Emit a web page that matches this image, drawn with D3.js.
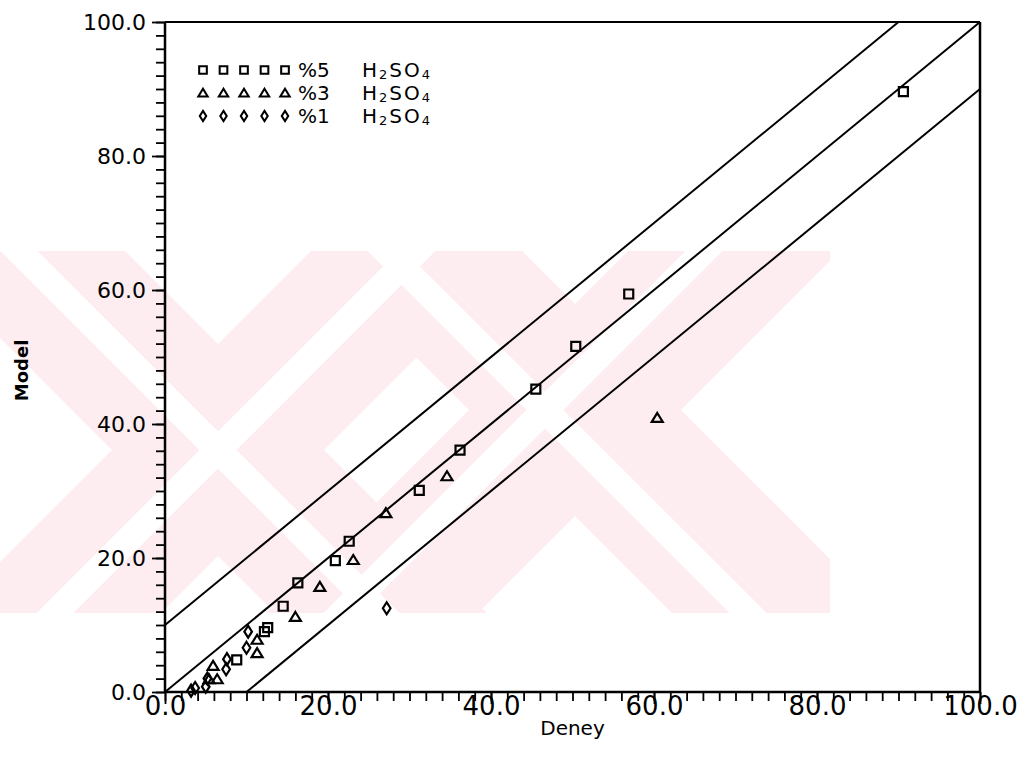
<!DOCTYPE html>
<html>
<head>
<meta charset="utf-8">
<script src="https://cdn.jsdelivr.net/npm/d3@7"></script>
<style>
body { margin: 0; background: #fff; }
text { font-family: "DejaVu Sans", sans-serif; fill: #000; }
</style>
</head>
<body>
<div id="chart"></div>
<script>
// data: [Deney, Model]
var sq5 = [[90.6,89.6],[56.9,59.4],[50.4,51.6],[45.5,45.2],[36.2,36.1],[31.2,30.1],
  [22.6,22.5],[20.9,19.6],[16.3,16.3],[14.5,12.8],[12.2,9.0],[12.6,9.6],[8.8,4.8]]
var tri3 = [[60.4,40.9],[34.6,32.2],[27.1,26.7],[23.1,19.7],[19.0,15.7],[16.0,11.2],
  [11.3,7.8],[11.3,5.8],[5.9,3.9],[5.4,1.9],[6.4,1.9]]
var dia1 = [[27.2,12.5],[10.2,9.0],[10.0,6.6],[7.6,4.9],[7.5,3.4],[5.2,2.0],[5.0,0.8],
  [3.7,0.6],[3.2,0.2]]
var lineOffsets = [10, 0, -10]
var legendLabels = ["%5", "%3", "%1"]
var legendShapes = ["square", "triangle", "diamond"]
var majorTicks = [0, 20, 40, 60, 80, 100]
var minorTicks = d3.range(0, 101, 2)

var W = 1032, H = 772
var svg = d3.select("#chart").append("svg")
  .attr("width", W).attr("height", H)

var x = d3.scaleLinear().domain([0, 100]).range([165, 980])
var y = d3.scaleLinear().domain([0, 100]).range([692, 22])

// faint watermark behind the plot
var wm = svg.append("g")
svg.append("clipPath").attr("id", "wmclip").append("rect")
  .attr("x", 0).attr("y", 251).attr("width", 830).attr("height", 362)
wm.attr("clip-path", "url(#wmclip)")
var centers = [[218, 450, 0], [575, 410, -30]]
centers.forEach(function (c) {
  [1, -1].forEach(function (s) {
    wm.append("line")
      .attr("x1", c[0] - 400).attr("y1", c[1] - 400 * s)
      .attr("x2", c[0] + 400).attr("y2", c[1] + 400 * s)
      .attr("stroke", "#fdedf0").attr("stroke-width", 150)
  })
})
centers.forEach(function (c) {
  [1, -1].forEach(function (s) {
    wm.append("line")
      .attr("x1", c[0] + c[2] - 400).attr("y1", c[1] - 400 * s)
      .attr("x2", c[0] + c[2] + 400).attr("y2", c[1] + 400 * s)
      .attr("stroke", "#fff").attr("stroke-width", 26)
  })
})

// axes
var fmt = d3.format(".1f")
var yMinor = svg.append("g").attr("transform", "translate(" + x(0) + ",0)")
  .call(d3.axisLeft(y).tickValues(minorTicks).tickSize(9).tickFormat(""))
var yMajor = svg.append("g").attr("transform", "translate(" + x(0) + ",0)")
  .call(d3.axisLeft(y).tickValues(majorTicks).tickSize(13).tickPadding(6).tickFormat(fmt))
var xMinor = svg.append("g").attr("transform", "translate(0," + y(0) + ")")
  .call(d3.axisBottom(x).tickValues(minorTicks).tickSize(9).tickFormat(""))
var xMajor = svg.append("g").attr("transform", "translate(0," + y(0) + ")")
  .call(d3.axisBottom(x).tickValues(majorTicks).tickSize(12).tickFormat(fmt))

svg.selectAll(".domain").remove()
svg.append("line").attr("x1", x(0)).attr("x2", x(0)).attr("y1", y(100)).attr("y2", y(0))
  .attr("stroke", "#000").attr("stroke-width", 2.5)
svg.append("line").attr("x1", x(0)).attr("x2", x(100)).attr("y1", y(0)).attr("y2", y(0))
  .attr("stroke", "#000").attr("stroke-width", 2.5)
svg.selectAll(".tick line").attr("stroke", "#000").attr("stroke-width", 1.8)
yMajor.selectAll("text").attr("font-size", 22).attr("dy", "0.36em")
xMajor.selectAll("text").attr("font-family", "Liberation Sans").attr("font-size", 26)
  .attr("y", 5).attr("dy", "0.71em")

// frame top and right
svg.append("line").attr("x1", x(0)).attr("x2", x(100)).attr("y1", y(100)).attr("y2", y(100))
  .attr("stroke", "#000").attr("stroke-width", 2)
svg.append("line").attr("x1", x(100)).attr("x2", x(100)).attr("y1", y(100)).attr("y2", y(0))
  .attr("stroke", "#000").attr("stroke-width", 2.5)

// axis titles
svg.append("text").text("Deney").attr("x", x(50)).attr("y", 735)
  .attr("text-anchor", "middle").attr("font-size", 20)
svg.append("text").text("Model")
  .attr("transform", "translate(28," + y(48) + ") rotate(-90)")
  .attr("text-anchor", "middle").attr("font-size", 18).attr("font-weight", "bold")

// y = x and +-10 lines
svg.selectAll(".fit").data(lineOffsets).enter().append("line")
  .attr("x1", d => x(Math.max(0, -d))).attr("y1", d => y(Math.max(0, -d) + d))
  .attr("x2", d => x(Math.min(100, 100 - d))).attr("y2", d => y(Math.min(100, 100 - d) + d))
  .attr("stroke", "#000").attr("stroke-width", 2)

var shapePath = {
  square: "M-4.5,-4.5H4.5V4.5H-4.5Z",
  triangle: "M0,-5L5.5,4H-5.5Z",
  diamond: "M0,-6L3.8,0L0,6L-3.8,0Z"
}
function drawPoints(data, shape) {
  svg.selectAll(".p" + shape).data(data).enter().append("path")
    .attr("d", shapePath[shape])
    .attr("transform", d => "translate(" + x(d[0]) + "," + y(d[1]) + ")")
    .attr("fill", "none").attr("stroke", "#000").attr("stroke-width", 2.2)
}
drawPoints(sq5, "square")
drawPoints(tri3, "triangle")
drawPoints(dia1, "diamond")

// legend
var leg = svg.selectAll(".leg").data(legendLabels).enter().append("g")
  .attr("transform", (d, i) => "translate(0," + (70 + i * 23) + ")")
leg.each(function (d, i) {
  var g = d3.select(this)
  d3.range(5).forEach(function (k) {
    g.append("path").attr("d", shapePath[legendShapes[i]])
      .attr("transform", "translate(" + (203 + k * 20.5) + ",0) scale(0.85)")
      .attr("fill", "none").attr("stroke", "#000").attr("stroke-width", 2.4)
  })
  g.append("text").text(d).attr("x", 298).attr("y", 7).attr("font-size", 20)
  var t = g.append("text").attr("x", 362).attr("y", 7).attr("font-size", 20)
    .attr("letter-spacing", 2)
  t.append("tspan").text("H")
  t.append("tspan").text("2").attr("font-size", 13).attr("dy", 2)
  t.append("tspan").text("SO").attr("dy", -2)
  t.append("tspan").text("4").attr("font-size", 13).attr("dy", 2)
})
</script>
</body>
</html>
